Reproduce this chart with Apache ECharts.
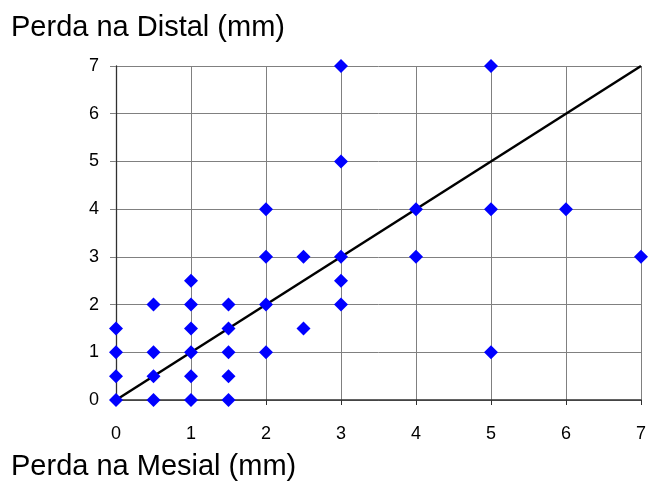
<!DOCTYPE html>
<html>
<head>
<meta charset="utf-8">
<script src="https://cdn.jsdelivr.net/npm/echarts@6/dist/echarts.min.js"></script>
<style>
html,body{margin:0;padding:0;background:#fff;}
#c{width:649px;height:481px;}
</style>
</head>
<body>
<div id="c"></div>
<script>
var mesial = [0,0,0,0, 0.5,0.5,0.5,0.5, 1,1,1,1,1,1, 1.5,1.5,1.5,1.5,1.5, 2,2,2,2, 2.5,2.5, 3,3,3,3,3, 4,4, 5,5,5, 6, 7];
var distal = [0,0.5,1,1.5, 0,0.5,1,2, 0,0.5,1,1.5,2,2.5, 0,0.5,1,1.5,2, 1,2,3,4, 1.5,3, 2,2.5,3,5,7, 3,4, 1,4,7, 4, 3];
var lineX = [0, 7];
var lineY = [0, 7];
var axisTicks = [0,1,2,3,4,5,6,7];
var yTitle = 'Perda na Distal (mm)';
var xTitle = 'Perda na Mesial (mm)';

var scatterData = mesial.map(function(x,i){return [x, distal[i]];});
var lineData = lineX.map(function(x,i){return [x, lineY[i]];});

var chart = echarts.init(document.getElementById('c'));
var font = 'Arial, "Liberation Sans", sans-serif';
chart.setOption({
  animation:false,
  backgroundColor:'#fff',
  title:[
    {text:yTitle,left:6,top:8,textStyle:{fontFamily:font,fontSize:29,fontWeight:'normal',color:'#000'}},
    {text:xTitle,left:6,top:447,textStyle:{fontFamily:font,fontSize:29,fontWeight:'normal',color:'#000'}}
  ],
  grid:{left:116,right:8,top:66,bottom:81,containLabel:false},
  xAxis:{
    type:'value',min:axisTicks[0],max:axisTicks[axisTicks.length-1],interval:1,
    axisLine:{show:true,lineStyle:{color:'#303030',width:1.5}},
    axisTick:{show:true,length:5,lineStyle:{color:'#303030'}},
    axisLabel:{fontFamily:font,fontSize:18,color:'#000',margin:25},
    splitLine:{show:true,lineStyle:{color:'#808080',width:1}}
  },
  yAxis:{
    type:'value',min:axisTicks[0],max:axisTicks[axisTicks.length-1],interval:1,
    axisLine:{show:true,lineStyle:{color:'#303030',width:1.3}},
    axisTick:{show:true,length:6,lineStyle:{color:'#808080'}},
    axisLabel:{fontFamily:font,fontSize:18,color:'#000',margin:17},
    splitLine:{show:true,lineStyle:{color:'#808080',width:1}}
  },
  series:[
    {type:'line',data:lineData,showSymbol:false,symbol:'none',lineStyle:{color:'#000',width:2.5},z:2,silent:true},
    {type:'scatter',data:scatterData,symbol:'diamond',symbolSize:[14,14],itemStyle:{color:'#0000FF',opacity:1},z:3}
  ]
});
</script>
</body>
</html>
